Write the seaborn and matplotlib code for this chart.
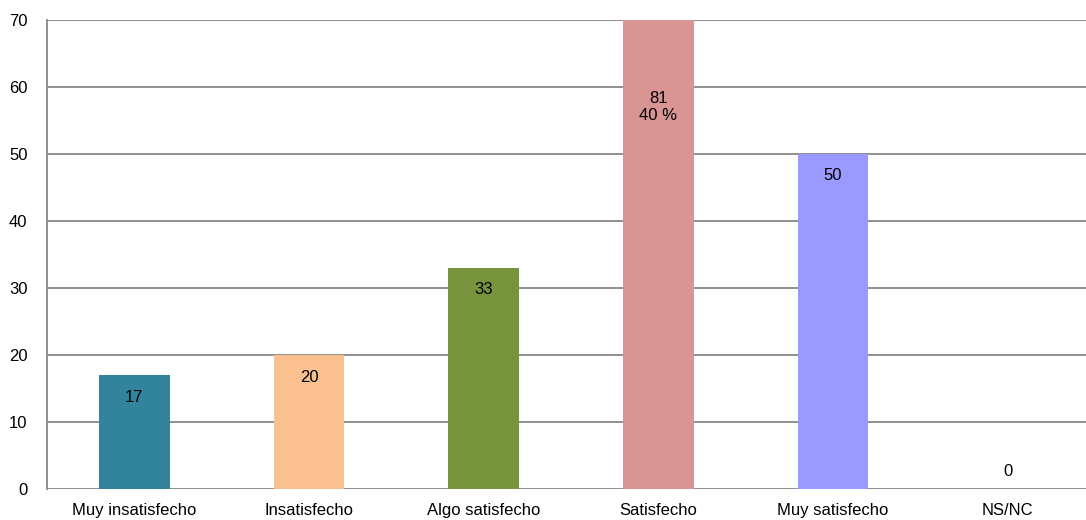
import numpy as np
import pandas as pd
import matplotlib
matplotlib.use("Agg")
import matplotlib.pyplot as plt
import seaborn as sns

categories = ["Muy insatisfecho", "Insatisfecho", "Algo satisfecho",
              "Satisfecho", "Muy satisfecho", "NS/NC"]
values = [17, 20, 33, 81, 50, 0]
bar_labels = ["17", "20", "33", "81\n40 %", "50", "0"]
colors = ["#31849B", "#FAC090", "#77933C", "#D99594", "#9999FF", "#4F81BD"]
yticks = [0, 10, 20, 30, 40, 50, 60, 70]

sns.set_theme(style="white")
plt.rcParams["font.family"] = ["Liberation Sans", "DejaVu Sans"]
plt.rcParams["text.color"] = "black"

df = pd.DataFrame({"cat": categories, "val": values})

fig = plt.figure(figsize=(10.86, 5.2), dpi=100)
# the plot area runs a little past the right edge of the picture
ax = fig.add_axes([47 / 1086, 1 - 489 / 520, (1095 - 47) / 1086, (489 - 20) / 520])

sns.barplot(data=df, x="cat", y="val", hue="cat", palette=colors,
            width=0.405, legend=False, ax=ax, zorder=3, saturation=1,
            linewidth=0)
for p in ax.patches:
    y0 = p.get_y()
    p.set_y(y0 - 0.3)
    p.set_height(p.get_height() + 0.3)

ymax = 70
ax.set_ylim(0, ymax)
ax.set_xlim(-0.5, len(categories) - 0.5)
ax.set_yticks(yticks)
ax.yaxis.grid(True, color="#8f8f8f", linewidth=1.4, zorder=0)
ax.set_axisbelow(True)
for s in ["top", "right", "bottom"]:
    ax.spines[s].set_visible(False)
ax.spines["left"].set_color("#8f8f8f")
ax.spines["left"].set_linewidth(1.4)
ax.set_xlabel("")
ax.set_ylabel("")
ax.tick_params(axis="both", length=0, labelsize=12, colors="black")
ax.tick_params(axis="x", pad=10)
ax.tick_params(axis="y", pad=14)

fs = 12
for i, (v, lab) in enumerate(zip(values, bar_labels)):
    if v > ymax:
        ax.text(i, 57.0, lab, ha="center", va="center", fontsize=fs,
                linespacing=1.2, zorder=5, color="black")
    elif v == 0:
        ax.annotate(lab, (i, v), xytext=(0, 17), textcoords="offset pixels",
                    ha="center", va="center", fontsize=fs, zorder=5,
                    color="black")
    else:
        ax.annotate(lab, (i, v), xytext=(0, -22), textcoords="offset pixels",
                    ha="center", va="center", fontsize=fs, zorder=5,
                    color="black")

fig.savefig("out.png", dpi=100)
